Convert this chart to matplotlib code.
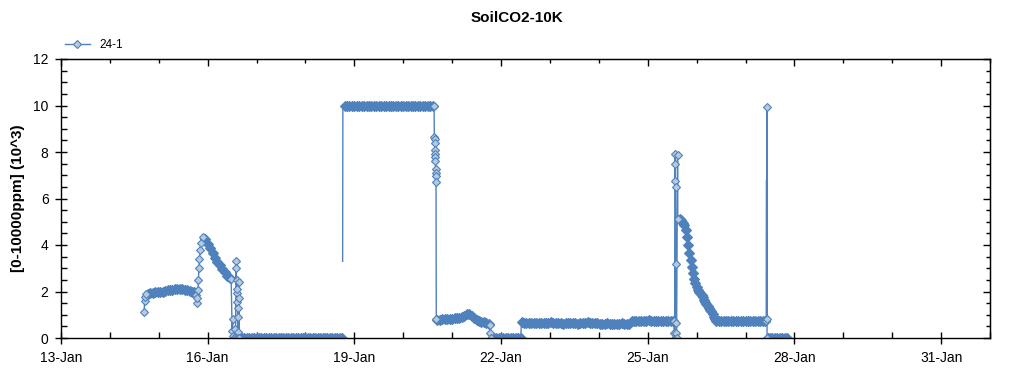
import numpy as np
import matplotlib
matplotlib.use("Agg")
import matplotlib.pyplot as plt
import matplotlib.dates as mdates
from matplotlib.ticker import MultipleLocator
from matplotlib.lines import Line2D
from datetime import datetime, timedelta

# ---------------- text ----------------
chart_title = "SoilCO2-10K"
series_name = "24-1"
y_label = "[0-10000ppm] (10^3)"

# ---------------- data (January day numbers, readings in 10^3 ppm) ----------------
STEP = 0.05  # sampling step of the regular (dense) stretches, days

start_days = [14.70, 14.71, 14.72, 14.74]
start_vals = [1.10, 1.60, 1.75, 1.90]

band1_start = 14.78
band1_vals = [1.90, 1.93, 1.95, 1.97, 1.98, 2.00, 2.00, 2.02, 2.05, 2.06,
              2.08, 2.10, 2.10, 2.12, 2.10, 2.08, 2.05, 2.02, 2.00, 1.97]

rise1_days = [15.76, 15.78, 15.79, 15.80, 15.81, 15.82, 15.83, 15.85, 15.87, 15.90]
rise1_vals = [1.85, 1.50, 1.70, 2.06, 2.50, 3.00, 3.40, 3.80, 4.10, 4.35]

decay1_start = 15.95
decay1_vals = [4.25, 4.05, 3.85, 3.65, 3.45, 3.28, 3.12, 2.98, 2.82, 2.68, 2.58]

spike1_days = [16.48, 16.50, 16.51, 16.52, 16.53, 16.55, 16.57, 16.58, 16.585, 16.59,
               16.595, 16.60, 16.605, 16.61, 16.615, 16.62, 16.63, 16.635, 16.64, 16.65]
spike1_vals = [2.55, 0.30, 0.80, 0.10, 0.00, 0.40, 0.00, 3.30, 3.00, 2.50,
               1.93, 2.10, 1.55, 1.28, 0.90, 0.26, 0.00, 2.40, 1.70, 0.00]

zero1_start = 16.70
zero1_vals = [0, 0, 0, 0, 0, 0, 0, 0, 0, 0, 0, 0, 0, 0, 0, 0, 0, 0, 0, 0, 0,
              0, 0, 0, 0, 0, 0, 0, 0, 0, 0, 0, 0, 0, 0, 0, 0, 0, 0, 0, 0, 0]

jump1_days = [18.755, 18.76, 18.765]      # gap, then a lone reading before the 10k plateau
jump1_vals = [np.nan, 3.30, 10.0]

top_start = 18.80
top_vals = [10.0, 10.0, 10.0, 10.0, 10.0, 10.0, 10.0, 10.0, 10.0, 10.0,
            10.0, 10.0, 10.0, 10.0, 10.0, 10.0, 10.0, 10.0, 10.0, 10.0,
            10.0, 10.0, 10.0, 10.0, 10.0, 10.0, 10.0, 10.0, 10.0, 10.0,
            10.0, 10.0, 10.0, 10.0, 10.0, 10.0, 10.0]

drop2_days = [20.63, 20.635, 20.64, 20.643, 20.646, 20.65, 20.653, 20.656,
              20.66, 20.663, 20.666, 20.67, 20.675]
drop2_vals = [10.0, 8.65, 8.55, 8.40, 8.10, 7.90, 7.80, 7.60, 7.25, 7.10, 6.95, 6.70, 0.80]

band2_start = 20.70
band2_vals = [0.78, 0.78, 0.80, 0.80, 0.82, 0.82, 0.83, 0.85, 0.85, 0.88, 0.90,
              0.95, 1.02, 1.05, 0.95, 0.85, 0.78, 0.72, 0.70, 0.68, 0.66, 0.60]

fall2_days = [21.77, 21.78, 21.80]
fall2_vals = [0.56, 0.20, 0.00]

zero2_start = 21.85
zero2_vals = [0, 0, 0, 0, 0, 0, 0, 0, 0, 0, 0, 0]

band3_start = 22.42
band3_vals = [0.70, 0.66, 0.64, 0.65, 0.63, 0.64, 0.66, 0.65, 0.64, 0.63, 0.65,
              0.66, 0.67, 0.66, 0.65, 0.64, 0.63, 0.62, 0.64, 0.65, 0.66, 0.65,
              0.63, 0.62, 0.63, 0.64, 0.66, 0.67, 0.66, 0.65, 0.64, 0.63, 0.62,
              0.61, 0.62, 0.63, 0.62, 0.61, 0.60, 0.61, 0.62, 0.63, 0.62, 0.61, 0.62]

band4_start = 24.67
band4_vals = [0.72, 0.74, 0.75, 0.74, 0.73, 0.74, 0.75, 0.76, 0.75,
              0.74, 0.73, 0.74, 0.75, 0.74, 0.73, 0.74, 0.75, 0.74]

spike2_days = [25.53, 25.545, 25.55, 25.555, 25.56, 25.565, 25.57, 25.575,
               25.58, 25.585, 25.59, 25.61, 25.615]
spike2_vals = [0.75, 0.20, 0.00, 7.90, 7.50, 6.75, 6.50, 3.20,
               0.64, 0.20, 0.00, 7.85, 5.10]

decay2_start, decay2_step = 25.65, 0.025
decay2_vals = [5.10, 5.07, 5.00, 4.95, 4.85, 4.65, 4.35, 4.00, 3.65, 3.35,
               3.05, 2.80, 2.55, 2.35, 2.20, 2.08, 2.00, 1.92, 1.85, 1.75,
               1.65, 1.55, 1.45, 1.38, 1.30, 1.22, 1.15, 1.02, 0.90, 0.80, 0.75]

band5_start = 26.45
band5_vals = [0.72, 0.73, 0.72, 0.71, 0.72, 0.73, 0.72, 0.72, 0.71, 0.72,
              0.73, 0.72, 0.71, 0.72, 0.72, 0.73, 0.72, 0.71, 0.72, 0.73]

spike3a_days = [27.425]
spike3a_vals = [0.72]
spike3b_days = [27.43, 27.432, 27.434]    # fast oscillation drawn without markers
spike3b_vals = [6.80, 0.75, 6.80]
spike3c_days = [27.436, 27.438, 27.44]
spike3c_vals = [0.80, 9.95, 0.00]

zero3_start = 27.45
zero3_vals = [0, 0, 0, 0, 0, 0, 0, 0, 0]

# ---------------- assemble ----------------
DENSE, MARK, PLAIN = 0, 1, 2

def regular(start, vals, step=STEP):
    return [start + i * step for i in range(len(vals))], list(vals), DENSE

def sparse(d, v, kind=MARK):
    return list(d), list(v), kind

pieces = [
    sparse(start_days, start_vals),
    regular(band1_start, band1_vals),
    sparse(rise1_days, rise1_vals),
    regular(decay1_start, decay1_vals),
    sparse(spike1_days, spike1_vals),
    regular(zero1_start, zero1_vals),
    sparse(jump1_days, jump1_vals, PLAIN),
    regular(top_start, top_vals),
    sparse(drop2_days, drop2_vals),
    regular(band2_start, band2_vals),
    sparse(fall2_days, fall2_vals),
    regular(zero2_start, zero2_vals),
    regular(band3_start, band3_vals),
    regular(band4_start, band4_vals),
    sparse(spike2_days, spike2_vals),
    regular(decay2_start, decay2_vals, decay2_step),
    regular(band5_start, band5_vals),
    sparse(spike3a_days, spike3a_vals),
    sparse(spike3b_days, spike3b_vals, PLAIN),
    sparse(spike3c_days, spike3c_vals),
    regular(zero3_start, zero3_vals),
]
days, vals, kinds = [], [], []
for d, v, k in pieces:
    days += d
    vals += v
    kinds += [k] * len(d)

base = datetime(2024, 1, 1)
times = np.array([base + timedelta(days=x - 1) for x in days])
values = np.array(vals, dtype=float)
kinds = np.array(kinds)

# ---------------- plot ----------------
plt.rcParams["font.family"] = ["Liberation Sans", "DejaVu Sans"]

W, H = 1024, 375
fig = plt.figure(figsize=(W / 100, H / 100), dpi=100)
L, R, T, B = 61, 990, 59, 338
ax = fig.add_axes([L / W, 1 - B / H, (R - L) / W, (B - T) / H])

line_color = "#4F81BD"
fill_color = "#B7C9DD"

ax.plot(times, values, color=line_color, lw=1.0)
d = kinds == DENSE
ax.plot(times[d], values[d], ls="none", marker="D", ms=4.7,
        mfc=line_color, mec=line_color, mew=0.8)
m = kinds == MARK
ax.plot(times[m], values[m], ls="none", marker="D", ms=3.8,
        mfc=fill_color, mec=line_color, mew=0.8)

ax.set_xlim(base + timedelta(days=12), base + timedelta(days=31))
ax.set_ylim(0, 12)

major_days = [13, 16, 19, 22, 25, 28, 31]
ax.xaxis.set_major_locator(mdates.DayLocator(bymonthday=major_days))
ax.xaxis.set_major_formatter(mdates.DateFormatter("%d-%b"))
ax.xaxis.set_minor_locator(mdates.DayLocator())
ax.yaxis.set_major_locator(MultipleLocator(2))
ax.yaxis.set_minor_locator(MultipleLocator(0.5))

ax.tick_params(which="major", direction="inout", length=8, width=1,
               labelsize=10, pad=5, colors="black")
ax.tick_params(which="minor", direction="in", length=4, width=1)
for s in ax.spines.values():
    s.set_linewidth(1)
    s.set_color("black")

secx = ax.secondary_xaxis("top")
secx.xaxis.set_major_locator(mdates.DayLocator(bymonthday=major_days))
secx.xaxis.set_minor_locator(mdates.DayLocator())
secx.tick_params(which="major", direction="in", length=5, width=1, labeltop=False)
secx.tick_params(which="minor", direction="in", length=3, width=1)
secx.set_xticklabels([])
secy = ax.secondary_yaxis("right")
secy.yaxis.set_major_locator(MultipleLocator(2))
secy.yaxis.set_minor_locator(MultipleLocator(0.5))
secy.tick_params(which="major", direction="in", length=5, width=1, labelright=False)
secy.tick_params(which="minor", direction="in", length=3, width=1)

ax.set_ylabel(y_label, fontsize=11, fontweight="bold", labelpad=6)
fig.text(517 / W, 1 - 18 / H, chart_title, ha="center", va="center",
         fontsize=11, fontweight="bold")

handle = Line2D([], [], color=line_color, lw=1.0, marker="D", ms=3.8,
                mfc=fill_color, mec=line_color, mew=0.8)
ax.legend([handle], [series_name], loc="center left",
          bbox_to_anchor=(4 / (R - L), 1 + 14 / (B - T)),
          frameon=False, fontsize=8.5, handlelength=2.1, handletextpad=0.8,
          borderpad=0, borderaxespad=0)

fig.savefig("out.png", dpi=100)
